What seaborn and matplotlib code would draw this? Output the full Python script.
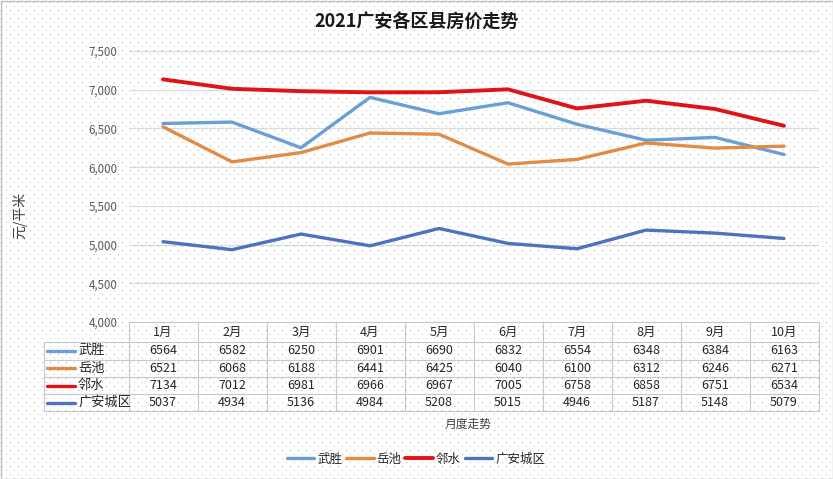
import matplotlib
matplotlib.use("Agg")
import matplotlib.pyplot as plt
import seaborn as sns
import pandas as pd
import numpy as np
from matplotlib.patches import Rectangle
from matplotlib.lines import Line2D

months = ["1月", "2月", "3月", "4月", "5月", "6月", "7月", "8月", "9月", "10月"]
wusheng = [6564, 6582, 6250, 6901, 6690, 6832, 6554, 6348, 6384, 6163]
yuechi = [6521, 6068, 6188, 6441, 6425, 6040, 6100, 6312, 6246, 6271]
linshui = [7134, 7012, 6981, 6966, 6967, 7005, 6758, 6858, 6751, 6534]
guangan = [5037, 4934, 5136, 4984, 5208, 5015, 4946, 5187, 5148, 5079]
series_names = ["武胜", "岳池", "邻水", "广安城区"]
yticks = [4000, 4500, 5000, 5500, 6000, 6500, 7000, 7500]

colors = ["#6A9ED4", "#E28B45", "#E01414", "#4A74BE"]
widths = [2.4, 2.4, 2.8, 2.4]

sns.set_theme(style="white")
plt.rcParams['font.family'] = ['Noto Sans CJK SC', 'DejaVu Sans']

values = [wusheng, yuechi, linshui, guangan]
df = pd.DataFrame({
    "month": np.tile(np.arange(len(months)), len(series_names)),
    "price": np.concatenate(values),
    "region": np.repeat(series_names, len(months)),
})

W, H = 833, 479
fig = plt.figure(figsize=(W / 100, H / 100), dpi=100)
fig.patch.set_facecolor("white")

# dotted background pattern (staggered pixel grid)
pattern = np.ones((H, W, 3))
for j in range(2, H, 4):
    off = 4 * ((j // 4) % 2)
    pattern[j, 2 + off::8, :] = 0.72
fig.figimage(pattern, xo=0, yo=0, origin="upper", zorder=-10)
border = Rectangle((0.5 / W, 0.5 / H), 1 - 1 / W, 1 - 1 / H, transform=fig.transFigure,
                   facecolor="none", edgecolor="#bfbfbf", linewidth=1, zorder=-5)
fig.patches.append(border)

L, R, T, B = 128.5, 818.5, 51, 322
ax = fig.add_axes([L / W, 1 - B / H, (R - L) / W, (B - T) / H])
ax.set_facecolor("none")

sns.lineplot(data=df, x="month", y="price", hue="region", hue_order=series_names,
             palette=colors, ax=ax, legend=False, sort=False)
for line, lw in zip(ax.get_lines(), widths):
    line.set_linewidth(lw)
    line.set_solid_capstyle("round")
    line.set_zorder(3)

ax.set_xlim(-0.5, len(months) - 0.5)
ax.set_ylim(4000, 7500)
ax.set_yticks(yticks)
ax.set_yticklabels([f"{v:,}" for v in yticks], fontsize=8.3, color="#595959")
ax.set_xticks([])
ax.set_xlabel("")
ax.set_ylabel("")
ax.tick_params(axis="y", length=0, pad=8)
for s in ax.spines.values():
    s.set_visible(False)
ax.grid(axis="y", color="#d9d9d9", linewidth=0.9)
ax.set_axisbelow(True)

# title and labels
fig.text(0.5, 1 - 22 / H, "2021广安各区县房价走势", ha="center", va="center",
         fontsize=13, fontweight="bold", color="#1a1a1a")
fig.text(20 / W, 1 - 215 / H, "元/平米", rotation=90, ha="center", va="center",
         fontsize=10, color="#404040")
fig.text(468 / W, 1 - 424 / H, "月度走势", ha="center", va="center",
         fontsize=8.5, color="#404040")

# data table
gc = "#c8c8c8"
tl = 43.5
row_edges = [322, 342, 359.5, 377, 394, 411]
def fy(y):
    return 1 - y / H
def fx(x):
    return x / W
cat_w = (R - L) / len(months)
for i, y in enumerate(row_edges):
    x0 = L if i == 0 else tl
    fig.add_artist(Line2D([fx(x0), fx(R)], [fy(y), fy(y)], color=gc, lw=0.8))
fig.add_artist(Line2D([fx(tl), fx(tl)], [fy(row_edges[1]), fy(row_edges[-1])], color=gc, lw=0.8))
for k in range(len(months) + 1):
    x = L + k * cat_w
    fig.add_artist(Line2D([fx(x), fx(x)], [fy(row_edges[0]), fy(row_edges[-1])], color=gc, lw=0.8))
for k, m in enumerate(months):
    xc = L + (k + 0.5) * cat_w
    fig.text(fx(xc), fy((row_edges[0] + row_edges[1]) / 2), m, ha="center", va="center",
             fontsize=9, color="#262626")
for r, (name, vals, c) in enumerate(zip(series_names, values, colors)):
    yc = fy((row_edges[r + 1] + row_edges[r + 2]) / 2)
    fig.add_artist(Line2D([fx(47), fx(75)], [yc, yc], color=c, lw=2.4, solid_capstyle="round"))
    fig.text(fx(78), yc, name, ha="left", va="center", fontsize=9.5, color="#262626")
    for k, v in enumerate(vals):
        xc = L + (k + 0.5) * cat_w
        fig.text(fx(xc), yc, str(v), ha="center", va="center", fontsize=9, color="#262626")

# legend
handles = [Line2D([0], [0], color=c, lw=lw) for c, lw in zip(colors, widths)]
fig.legend(handles, series_names, loc="center", bbox_to_anchor=(416 / W, 1 - 459 / H),
           ncol=4, frameon=False, fontsize=9, handlelength=2.2, handletextpad=0.25,
           columnspacing=0.3, labelcolor="#262626")

fig.savefig("out.png", dpi=100)
